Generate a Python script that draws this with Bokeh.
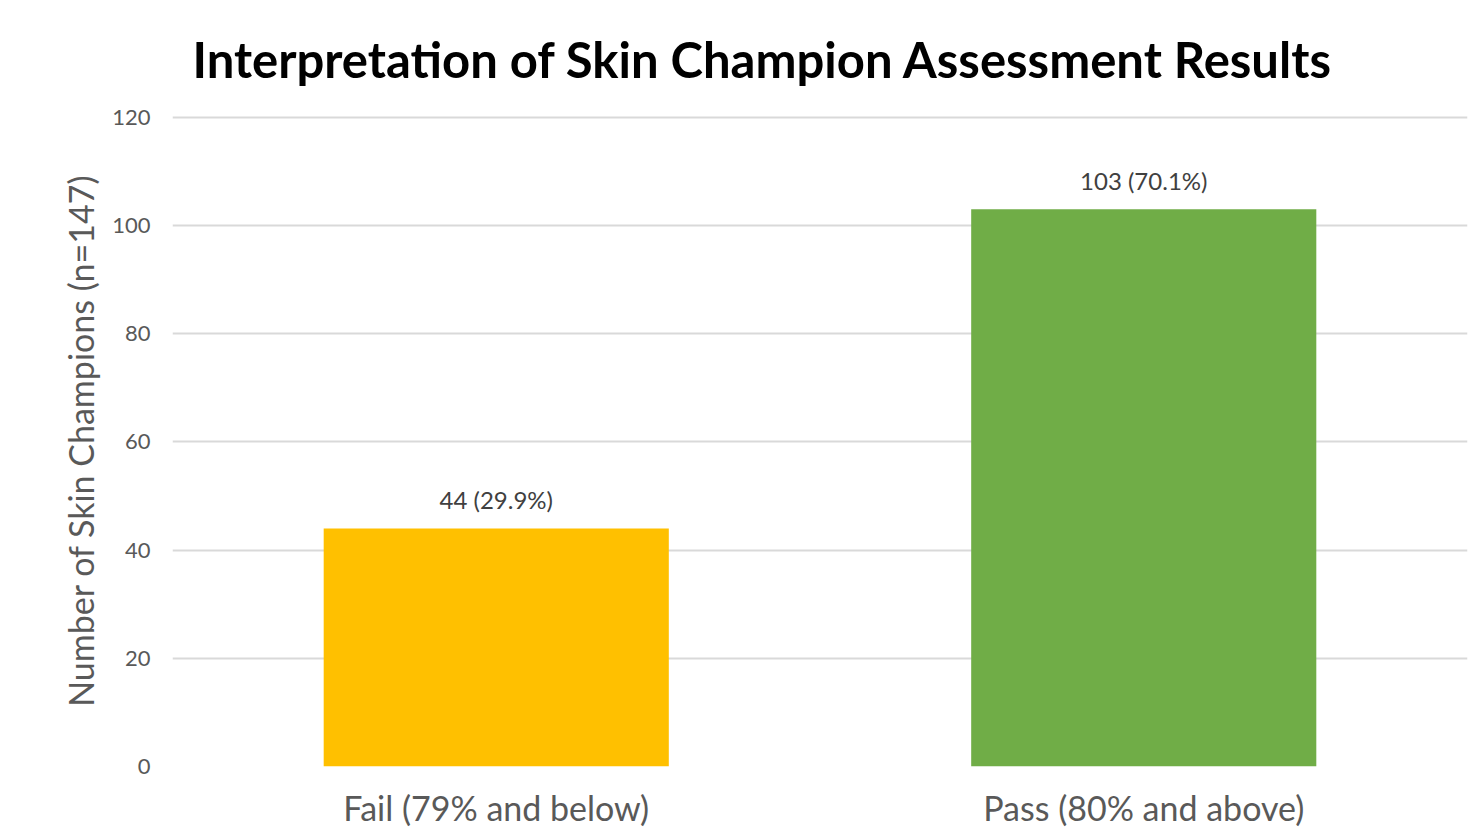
from bokeh.plotting import figure
from bokeh.models import ColumnDataSource, FactorRange, Range1d, FixedTicker, Title
from bokeh.core.properties import value
from bokeh.embed import file_html
from bokeh.resources import INLINE

categories = ["Fail (79% and below)", "Pass (80% and above)"]
counts = [44, 103]
labels = ["44 (29.9%)", "103 (70.1%)"]
colors = ["#FFC000", "#70AD47"]
y_ticks = [0, 20, 40, 60, 80, 100, 120]

src = ColumnDataSource(dict(cat=categories, n=counts, lab=labels, col=colors))

p = figure(x_range=FactorRange(*categories, range_padding=0), y_range=Range1d(0, 120.5),
           width=1469, height=831, output_backend="svg", toolbar_location=None,
           min_border_left=172, min_border_right=2, min_border_top=113, min_border_bottom=65)
p.outline_line_color = None
p.background_fill_color = "white"
p.border_fill_color = "white"

p.title = Title(text="Interpretation of Skin Champion Assessment Results", align="left", offset=20,
                text_font="Lato", text_font_size="49px", text_font_style="bold",
                text_color="#000000", standoff=54)

p.vbar(x="cat", top="n", width=0.533, color="col", source=src, line_color=None)
p.text(x="cat", y="n", text="lab", source=src, text_align="center", text_baseline="bottom",
       y_offset=-14, text_font=value("Lato"), text_font_size="24px", text_color="#404040")

p.yaxis.ticker = FixedTicker(ticks=y_ticks)
p.yaxis.axis_label = "Number of Skin Champions (n=147)"
p.yaxis.axis_label_text_font = "Lato"
p.yaxis.axis_label_text_font_size = "34px"
p.yaxis.axis_label_text_font_style = "normal"
p.yaxis.axis_label_text_color = "#595959"
p.yaxis.axis_label_standoff = 8
p.yaxis.major_label_text_font = "Lato"
p.yaxis.major_label_text_font_size = "22px"
p.yaxis.major_label_text_color = "#595959"
p.yaxis.major_label_standoff = 16
p.yaxis.axis_line_color = None
p.yaxis.major_tick_line_color = None
p.yaxis.minor_tick_line_color = None

p.xaxis.major_label_text_font = "Lato"
p.xaxis.major_label_text_font_size = "34px"
p.xaxis.major_label_text_color = "#595959"
p.xaxis.major_label_standoff = 14
p.xaxis.axis_line_color = None
p.xaxis.major_tick_line_color = None

p.xgrid.grid_line_color = None
p.ygrid.grid_line_color = "#D9D9D9"
p.ygrid.grid_line_width = 2

open("out.html", "w").write(file_html(p, INLINE))
